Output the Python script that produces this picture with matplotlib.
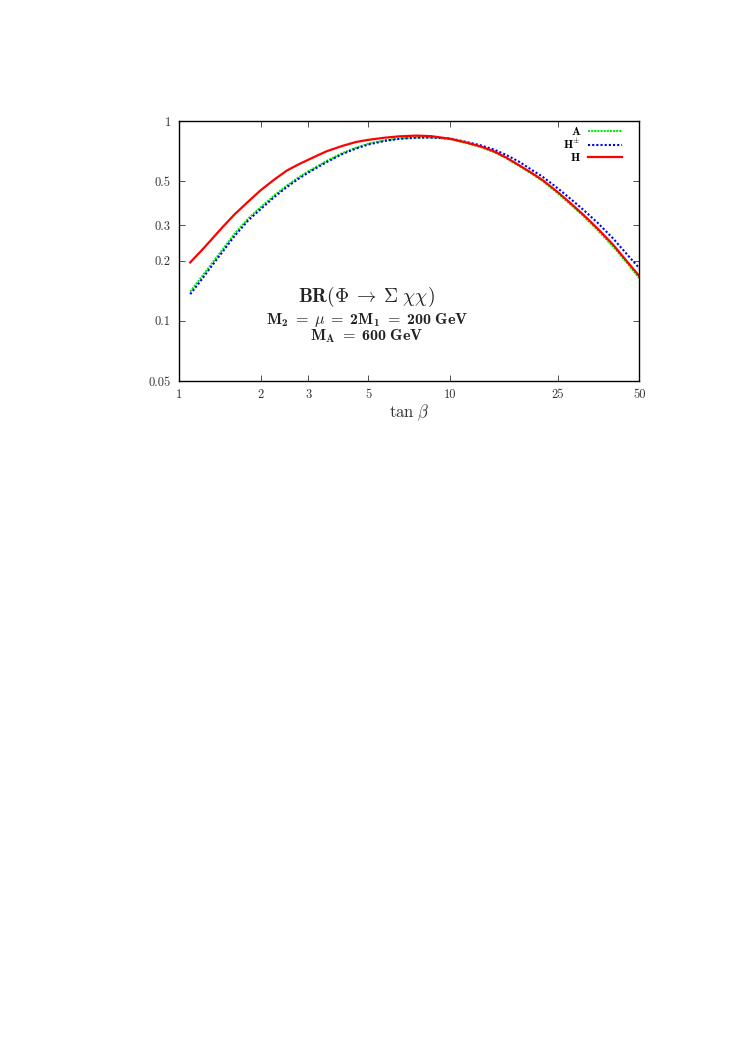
import matplotlib
matplotlib.use('Agg')
import matplotlib.pyplot as plt
from matplotlib.ticker import FixedLocator, FixedFormatter, NullLocator

plt.rcParams['font.family'] = 'serif'
plt.rcParams['font.serif'] = ['cmr10', 'DejaVu Serif']
plt.rcParams['axes.formatter.use_mathtext'] = True
# computer-modern look, but with bold digits (cmb10) for the annotations
plt.rcParams['mathtext.fontset'] = 'custom'
plt.rcParams['mathtext.rm'] = 'cmr10'
plt.rcParams['mathtext.it'] = 'cmmi10'
plt.rcParams['mathtext.bf'] = 'cmb10'
plt.rcParams['mathtext.fallback'] = 'cm'

# tan(beta) sample points and branching ratios
tanb = [1.1, 1.2, 1.3, 1.45, 1.6, 1.8, 2.0, 2.25, 2.5, 2.75, 3.0, 3.5, 4.0, 4.5,
        5.0, 5.75, 6.5, 7.5, 8.5, 10, 11.5, 13, 14.5, 16, 18, 20, 22, 25, 28,
        31, 35, 40, 45, 50]
br_A = [0.14, 0.163, 0.188, 0.228, 0.272, 0.325, 0.37, 0.425, 0.475, 0.52,
        0.56, 0.63, 0.69, 0.735, 0.77, 0.80, 0.818, 0.828, 0.828, 0.812,
        0.775, 0.74, 0.70, 0.655, 0.595, 0.545, 0.50, 0.435, 0.38, 0.335,
        0.285, 0.235, 0.195, 0.163]
br_Hpm = [0.136, 0.158, 0.183, 0.222, 0.265, 0.318, 0.362, 0.417, 0.467, 0.512,
          0.552, 0.622, 0.683, 0.728, 0.763, 0.795, 0.814, 0.825, 0.826, 0.818,
          0.785, 0.755, 0.72, 0.68, 0.625, 0.57, 0.525, 0.46, 0.405, 0.36,
          0.31, 0.258, 0.215, 0.183]
br_H = [0.196, 0.222, 0.25, 0.295, 0.34, 0.395, 0.45, 0.51, 0.565, 0.605,
        0.64, 0.705, 0.75, 0.785, 0.805, 0.825, 0.838, 0.845, 0.84, 0.815,
        0.78, 0.745, 0.705, 0.66, 0.60, 0.55, 0.505, 0.44, 0.385, 0.34,
        0.29, 0.24, 0.198, 0.167]

xticks = [1, 2, 3, 5, 10, 25, 50]
yticks = [0.05, 0.1, 0.2, 0.3, 0.5, 1]
xlabels = ['1', '2', '3', '5', '10', '25', '50']
ylabels = ['0.05', '0.1', '0.2', '0.3', '0.5', '1']

fig = plt.figure(figsize=(7.44, 10.53), dpi=100)
ax = fig.add_axes([0.2406, 0.6382, 0.6189, 0.2469])

ax.plot(tanb, br_A, color='#00ee00', lw=1.5, ls=(0, (1, 0.5)),
        label=r'$\mathbf{A}$')
ax.plot(tanb, br_Hpm, color='#0000ee', lw=1.5, ls=(0, (1, 1)),
        label=r'$\mathbf{H}^{\pm}$')
ax.plot(tanb, br_H, color='#ff0000', lw=1.6, ls='-',
        label=r'$\mathbf{H}$')

ax.set_xscale('log')
ax.set_yscale('log')
ax.set_xlim(1, 50)
ax.set_ylim(0.05, 1)

ax.xaxis.set_major_locator(FixedLocator(xticks))
ax.xaxis.set_major_formatter(FixedFormatter(xlabels))
ax.xaxis.set_minor_locator(NullLocator())
ax.yaxis.set_major_locator(FixedLocator(yticks))
ax.yaxis.set_major_formatter(FixedFormatter(ylabels))
ax.yaxis.set_minor_locator(NullLocator())
ax.tick_params(which='both', direction='in', top=True, right=True,
               length=4, width=0.6, labelsize=9, colors='#333333',
               labelcolor='#333333', pad=6)
for s in ax.spines.values():
    s.set_linewidth(1.0)

ax.set_xlabel(r'$\tan\,\beta$', fontsize=12, color='#333333', labelpad=1)

ax.text(0.408, 0.325, r'$\mathbf{BR}(\Phi\;\rightarrow\;\Sigma\;\chi\chi)$',
        transform=ax.transAxes, ha='center', va='center', fontsize=14,
        color='#222222')
ax.text(0.408, 0.235,
        r'$\mathbf{M_2}\;=\;\mu\;=\;\mathbf{2M_1}\;=\;\mathbf{200\ GeV}$',
        transform=ax.transAxes, ha='center', va='center', fontsize=11.5,
        color='#222222')
ax.text(0.408, 0.172, r'$\mathbf{M_A}\;=\;\mathbf{600\ GeV}$',
        transform=ax.transAxes, ha='center', va='center', fontsize=11.5,
        color='#222222')

leg = ax.legend(loc='upper right', bbox_to_anchor=(0.972, 1.0), frameon=False,
                markerfirst=False, fontsize=8.5, handlelength=2.9,
                handletextpad=0.6, labelspacing=0.0, borderaxespad=0.1,
                borderpad=0.25)
for t in leg.get_texts():
    t.set_math_fontfamily('cm')

fig.savefig('out.png', dpi=100)
